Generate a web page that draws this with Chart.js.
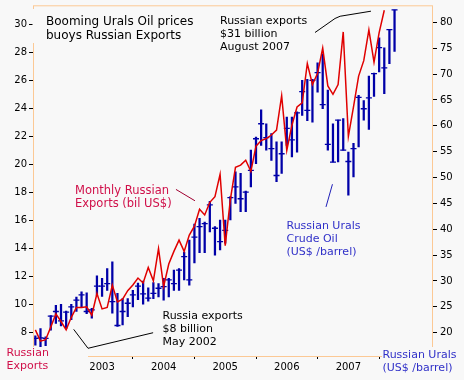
<!DOCTYPE html>
<html><head><meta charset="utf-8">
<script src="https://cdn.jsdelivr.net/npm/chart.js@4/dist/chart.umd.min.js"></script>
<style>html,body{margin:0;padding:0;background:#f8f8f8;overflow:hidden}</style>
</head><body>
<canvas id="c" width="464" height="380"></canvas>
<script>
// Months run from Dec 2001 (index 0) to Oct 2007 (index 70)
const firstMonth = '2001-12';
const yearTicks = [13, 25, 37, 49, 61];
const yearLabels = ['2003', '2004', '2005', '2006', '2007'];
const leftTicks = [8, 10, 12, 14, 16, 18, 20, 22, 24, 26, 28, 30];
const rightTicks = [20, 25, 30, 35, 40, 45, 50, 55, 60, 65, 70, 75, 80];

// Monthly Russian exports, bil US$ (Dec 2001 .. Aug 2007)
const exportsBil = [8.2, 7.4, 7.5, 8.4, 9.35, 8.8, 8.2, 9.1, 9.8, 9.8,
  9.85, 9.25, 10.8, 9.7, 9.8, 11.4, 10.2, 10.4, 11.0, 11.4,
  11.9, 11.55, 12.65, 11.7, 14.0, 11.3, 12.9, 13.8, 14.6, 13.8,
  14.96, 15.6, 16.8, 16.4, 17.3, 17.7, 19.3, 14.2, 17.5, 19.8,
  19.95, 20.3, 19.5, 21.3, 21.7, 21.85, 22.1, 22.45, 24.9, 21.0,
  22.8, 24.1, 24.4, 27.2, 25.7, 26.5, 28.3, 25.6, 25.0, 25.7,
  29.45, 22.0, 24.1, 26.3, 27.4, 29.6, 27.3, 29.4, 31.0];

// Russian Urals crude, US$/barrel (Dec 2001 .. Oct 2007)
const uralsHigh = [19.4, 20.8, 19.2, 23.3, 25.3, 25.5, 24.2, 25.5, 26.9, 27.9,
  27.7, 24.7, 31.0, 30.5, 32.4, 33.7, 27.6, 26.6, 26.6, 28.2,
  29.6, 30.0, 28.7, 29.7, 29.5, 30.5, 30.5, 32.1, 32.4, 35.6,
  37.9, 41.0, 42.1, 41.4, 45.4, 40.5, 41.8, 41.8, 46.3, 51.1,
  50.8, 47.4, 55.3, 57.8, 63.1, 60.4, 58.5, 56.9, 56.9, 61.7,
  61.7, 62.7, 68.8, 69.0, 69.0, 72.2, 73.9, 66.9, 60.4, 61.1,
  61.4, 54.9, 56.6, 65.9, 64.9, 69.6, 70.2, 77.0, 75.1, 78.6, 82.4];
const uralsLow = [17.6, 17.3, 17.5, 20.5, 21.8, 21.3, 20.8, 22.5, 24.1, 25.0,
  23.7, 22.8, 27.2, 27.0, 28.2, 23.8, 21.2, 21.5, 23.1, 25.0,
  26.4, 25.5, 26.1, 26.6, 26.9, 26.3, 26.9, 28.2, 28.2, 30.2,
  29.2, 33.5, 35.5, 35.5, 39.5, 35.0, 36.0, 37.3, 41.8, 45.0,
  43.4, 43.4, 48.2, 52.7, 56.2, 55.3, 53.3, 49.2, 50.8, 56.2,
  54.0, 54.9, 62.0, 61.0, 60.7, 66.5, 63.3, 55.3, 53.0, 53.0,
  55.3, 46.6, 50.1, 55.9, 61.1, 59.3, 65.7, 70.4, 66.2, 72.0, 74.4];
const uralsClose = [18.9, 19.0, 18.9, 23.2, 24.1, 22.3, 24.0, 25.0, 26.3, 27.3,
  24.1, 24.4, 29.0, 29.0, 29.5, 26.0, 21.4, 24.1, 25.7, 27.3,
  29.0, 27.5, 26.7, 27.6, 28.6, 28.9, 30.2, 29.5, 32.1, 34.7,
  30.2, 38.5, 40.5, 41.1, 44.7, 40.2, 37.6, 39.8, 46.1, 48.2,
  45.9, 47.2, 51.4, 57.5, 60.4, 57.7, 55.6, 50.4, 54.6, 59.5,
  57.3, 62.5, 66.6, 63.0, 68.8, 70.3, 64.1, 56.4, 53.0, 61.1,
  55.3, 53.1, 55.6, 65.5, 63.3, 65.4, 70.1, 75.1, 71.2, 78.6, 82.4];

// Annotation pointer lines, in data space: [monthIndex, value]
const aug07Pointer = [[54.5, 29.41], [58.4, 30.41], [59.4, 30.57], [65.4, 30.93]];
const may02Pointer = [[7.47, 8.24], [10.26, 6.89], [22.95, 8.0]];
const exportsPointer = [[27.4, 18.22], [31.1, 17.41]];
const uralsPointer = [[56.64, 44.32], [57.9, 48.71]];

const BG = '#f8f8f8';
const FONT = "'DejaVu Sans', Verdana, sans-serif";
Chart.defaults.font.family = FONT;

function polyline(ctx, pts, sx, sy, color) {
  ctx.beginPath();
  pts.forEach((p, k) => {
    const X = sx.getPixelForValue(p[0]), Y = sy.getPixelForValue(p[1]);
    if (k === 0) ctx.moveTo(X, Y); else ctx.lineTo(X, Y);
  });
  ctx.strokeStyle = color; ctx.lineWidth = 1; ctx.stroke();
}
function lines(ctx, arr, x, y0, dy, color, size) {
  ctx.fillStyle = color; ctx.font = size + 'px ' + FONT;
  ctx.textAlign = 'left'; ctx.textBaseline = 'alphabetic';
  arr.forEach((t, k) => ctx.fillText(t, x, y0 + k * dy));
}

const deco = {
  id: 'deco',
  beforeDraw(chart) {
    const c = chart.ctx; c.save(); c.fillStyle = BG; c.fillRect(0, 0, chart.width, chart.height); c.restore();
  },
  afterDraw(chart) {
    const c = chart.ctx, a = chart.chartArea;
    const sx = chart.scales.x, sy = chart.scales.y, sy2 = chart.scales.y2;
    c.save();
    c.strokeStyle = '#fcc995'; c.lineWidth = 1;
    c.strokeRect(a.left + 0.5, a.top + 0.5, a.right - a.left, a.bottom - a.top);
    c.fillStyle = BG;
    c.fillRect(0, 347, 88, 33);
    c.fillRect(382, 347, 82, 33);
    c.fillRect(32.5, 9, 170, 34);
    polyline(c, aug07Pointer, sx, sy, '#000');
    polyline(c, may02Pointer, sx, sy, '#000');
    polyline(c, exportsPointer, sx, sy, '#a00030');
    polyline(c, uralsPointer, sx, sy2, '#2020b8');
    lines(c, ['Booming Urals Oil prices', 'buoys Russian Exports'], 46, 25, 13.5, '#000', 12);
    lines(c, ['Russian exports', '$31 billion', 'August 2007'], 220, 24, 12.8, '#000', 11);
    lines(c, ['Monthly Russian', 'Exports (bil US$)'], 75, 194, 13, '#d0104a', 11.5);
    lines(c, ['Russian Urals', 'Crude Oil', '(US$ /barrel)'], 286.5, 229, 12.8, '#3030c8', 11);
    lines(c, ['Russia exports', '$8 billion', 'May 2002'], 162.5, 319, 12.8, '#000', 11);
    lines(c, ['Russian', 'Exports'], 6.5, 355.7, 13.3, '#d0104a', 11);
    lines(c, ['Russian Urals', '(US$ /barrel)'], 382.5, 358.3, 12.8, '#3030c8', 11);
    c.restore();
  }
};

const exportsPts = exportsBil.map((v, k) => ({ x: k, y: v }));
const barPts = uralsHigh.map((h, k) => ({ x: k, y: [uralsLow[k], h] }));
const closePts = uralsClose.map((v, k) => ({ x: k, y: v }));

const tickGrid = { display: true, drawOnChartArea: false, drawTicks: true, color: '#000', lineWidth: 1 };

new Chart(document.getElementById('c'), {
  type: 'line',
  data: {
    datasets: [
      { type: 'line', data: exportsPts, yAxisID: 'y', borderColor: '#e00000', borderWidth: 1.5,
        pointRadius: 0, tension: 0, fill: false, order: 0 },
      { type: 'bar', data: barPts, yAxisID: 'y2', backgroundColor: '#0000a8', barThickness: 1.6,
        borderWidth: 0, order: 2 },
      { type: 'line', data: closePts, yAxisID: 'y2', showLine: false, pointStyle: 'line',
        pointRadius: 3, pointBorderWidth: 1.3, pointBorderColor: '#0000a8', borderColor: '#0000a8', order: 1 }
    ]
  },
  options: {
    responsive: false, animation: false, devicePixelRatio: 1, events: [],
    layout: { padding: { top: 5, left: 0, right: 0, bottom: 0 } },
    plugins: { legend: { display: false }, tooltip: { enabled: false } },
    scales: {
      x: {
        type: 'linear', position: 'bottom', min: -0.46, max: 77.3, offset: false,
        grid: Object.assign({}, tickGrid, { tickLength: 3 }),
        border: { display: false },
        afterBuildTicks: s => { s.ticks = yearTicks.map(v => ({ value: v })); },
        ticks: { color: '#000', font: { size: 10, family: FONT }, padding: 2, maxRotation: 0, autoSkip: false,
          callback: v => yearLabels[yearTicks.indexOf(v)] },
        afterFit: s => { s.height = 24; s.paddingLeft = 0; s.paddingRight = 0; }
      },
      y: {
        type: 'linear', position: 'left', min: 6.34, max: 31.35,
        grid: Object.assign({}, tickGrid, { tickLength: 4 }),
        border: { display: false },
        afterBuildTicks: s => { s.ticks = leftTicks.map(v => ({ value: v })); },
        ticks: { color: '#000', font: { size: 10, family: FONT }, padding: 2 },
        afterFit: s => { s.width = 33; s.paddingTop = 0; s.paddingBottom = 0; }
      },
      y2: {
        type: 'linear', position: 'right', min: 15.5, max: 83.3,
        grid: Object.assign({}, tickGrid, { tickLength: 5 }),
        border: { display: false },
        afterBuildTicks: s => { s.ticks = rightTicks.map(v => ({ value: v })); },
        ticks: { color: '#000', font: { size: 10, family: FONT }, padding: 3 },
        afterFit: s => { s.width = 32; s.paddingTop = 0; s.paddingBottom = 0; }
      }
    }
  },
  plugins: [deco]
});
</script>
</body></html>
